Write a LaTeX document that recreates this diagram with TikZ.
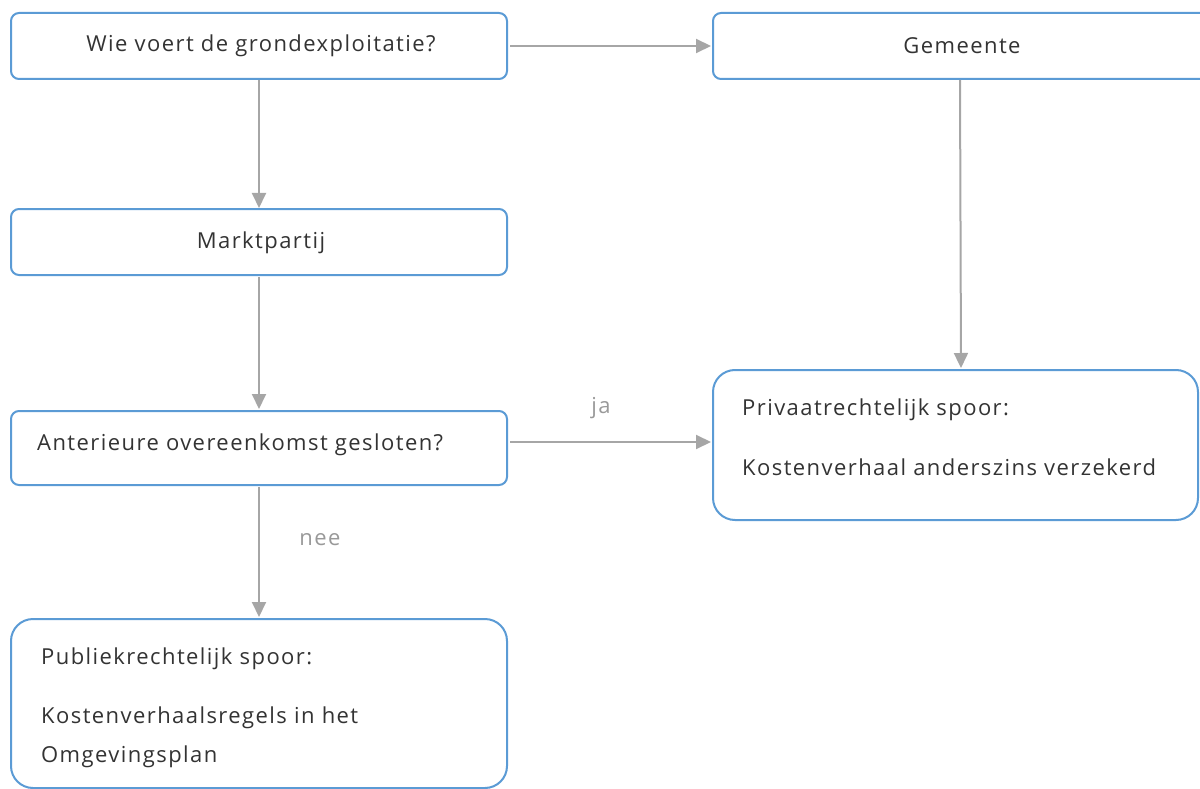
\documentclass[tikz,border=0pt]{standalone}
\usepackage{fontspec}
\setmainfont{Open Sans}[LetterSpace=6.5]
\usetikzlibrary{arrows.meta}
\definecolor{boxblue}{HTML}{5B9BD5}
\definecolor{arrowgray}{HTML}{A6A6A6}
\definecolor{txt}{HTML}{333333}
\definecolor{lbl}{HTML}{999999}
\begin{document}
\begin{tikzpicture}[x=1pt,y=-1pt,
  box/.style={draw=boxblue,line width=2pt,rounded corners=8pt},
  bigbox/.style={draw=boxblue,line width=2pt,rounded corners=22pt},
  txtnode/.style={text=txt,font=\fontsize{22}{26}\selectfont,inner sep=0pt},
  lblnode/.style={text=lbl,font=\fontsize{22}{26}\selectfont,inner sep=0pt},
  conn/.style={draw=arrowgray,line width=2pt,-{Triangle[length=15pt,width=14pt]}}]
\useasboundingbox (0,0) rectangle (1200,789);
% boxes
\draw[box] (11,13) rectangle (507,79);
\draw[box] (713,13) rectangle (1215,79);
\draw[box] (11,209) rectangle (507,275);
\draw[box] (11,411) rectangle (507,485);
\draw[bigbox] (713,370) rectangle (1198,520);
\draw[bigbox] (11,619) rectangle (507,788);
% anchor coordinates
\coordinate (q1r) at (510,46);
\coordinate (gl) at (711,46);
\coordinate (q1b) at (259,80);
\coordinate (mt) at (259,208);
\coordinate (mb) at (259,277);
\coordinate (at) at (259,409);
\coordinate (ar) at (510,442);
\coordinate (pl) at (711,442);
\coordinate (ab) at (259,487);
\coordinate (pubt) at (259,617);
\coordinate (gb) at (960,80);
\coordinate (privt) at (961,368);
% texts
\node[txtnode] (t1) at (261,46) {Wie voert de grondexploitatie?};
\node[txtnode] (t2) at (962,46) {Gemeente};
\node[txtnode] (t3) at (261,243) {Marktpartij};
\node[txtnode,anchor=west] (t4) at (37,445) {Anterieure overeenkomst gesloten?};
\node[txtnode,anchor=west] (t5) at (742,410) {Privaatrechtelijk spoor:};
\node[txtnode,anchor=west] (t6) at (742,467) {Kostenverhaal anderszins verzekerd};
\node[txtnode,anchor=west] (t7) at (41,659) {Publiekrechtelijk spoor:};
\node[txtnode,anchor=west] (t8) at (41,718) {Kostenverhaalsregels in het};
\node[txtnode,anchor=west] (t9) at (41,757) {Omgevingsplan};
\node[lblnode] (ja) at (601,408) {ja};
\node[lblnode] (nee) at (320,540) {nee};
% connectors
\draw[conn] (q1r) -- (gl);
\draw[conn] (q1b) -- (mt);
\draw[conn] (mb) -- (at);
\draw[conn] (ar) -- (pl);
\draw[conn] (ab) -- (pubt);
\draw[conn] (gb) -- (privt);
\end{tikzpicture}
\end{document}
